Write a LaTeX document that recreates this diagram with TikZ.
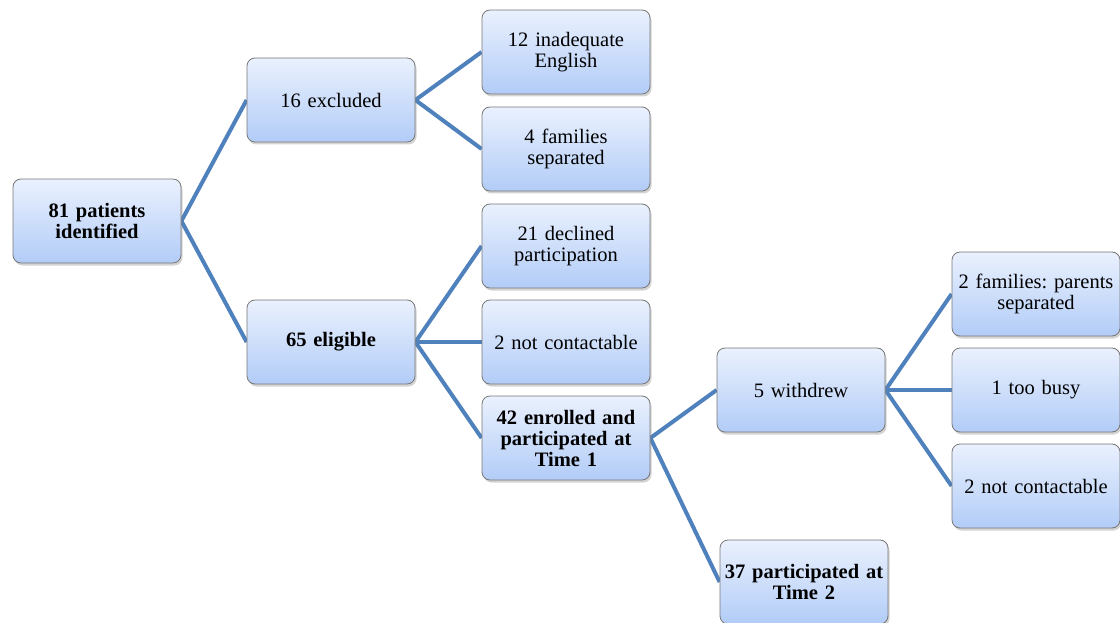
\documentclass[tikz,border=0pt]{standalone}
\usepackage{fontspec}
\setmainfont{Liberation Serif}
\usetikzlibrary{shadows,backgrounds}
\definecolor{linkblue}{RGB}{79,129,189}
\definecolor{boxtop}{RGB}{234,241,254}
\definecolor{boxbot}{RGB}{178,204,247}
\definecolor{boxedge}{RGB}{120,120,120}
\tikzset{
  box/.style={draw=boxedge, line width=0.8pt, rounded corners=8pt,
    top color=boxtop, bottom color=boxbot,
    minimum width=168pt, minimum height=84pt, text width=164pt, align=center,
    font=\fontsize{20.5}{21}\selectfont\frenchspacing, inner sep=2pt,
    drop shadow={shadow xshift=1.5pt, shadow yshift=-2.5pt, opacity=0.35}},
  bbox/.style={box, font=\fontsize{20.5}{21}\selectfont\bfseries\frenchspacing},
  link/.style={draw=linkblue, line width=4pt}
}
\begin{document}
\begin{tikzpicture}[x=1pt,y=-1pt]
\useasboundingbox (0,0) rectangle (1120,623);
\node[bbox] (p81) at (97,221) {81 patients\\identified};
\node[box] (ex16) at (331,100) {16 excluded};
\node[bbox] (el65) at (331,342) {65 eligible};
\node[box] (eng) at (566,52) {12 inadequate\\English};
\node[box] (sep) at (566,149) {4 families\\separated};
\node[box] (dec) at (566,246) {21 declined\\participation};
\node[box] (nc1) at (566,342) {2 not contactable};
\node[bbox] (enr) at (566,438) {42 enrolled and\\participated at\\Time 1};
\node[box] (wd) at (801,390) {5 withdrew};
\node[bbox] (t2) at (804,582) {37 participated at\\Time 2};
\node[box] (par) at (1036,294) {2 families: parents\\separated};
\node[box] (busy) at (1036,390) {1 too busy};
\node[box] (nc2) at (1036,486) {2 not contactable};
\begin{scope}[on background layer]
\draw[link] (p81.east) -- (ex16.west);
\draw[link] (p81.east) -- (el65.west);
\draw[link] (ex16.east) -- (eng.west);
\draw[link] (ex16.east) -- (sep.west);
\draw[link] (el65.east) -- (dec.west);
\draw[link] (el65.east) -- (nc1.west);
\draw[link] (el65.east) -- (enr.west);
\draw[link] (enr.east) -- (wd.west);
\draw[link] (enr.east) -- (t2.west);
\draw[link] (wd.east) -- (par.west);
\draw[link] (wd.east) -- (busy.west);
\draw[link] (wd.east) -- (nc2.west);
\end{scope}
\end{tikzpicture}
\end{document}
